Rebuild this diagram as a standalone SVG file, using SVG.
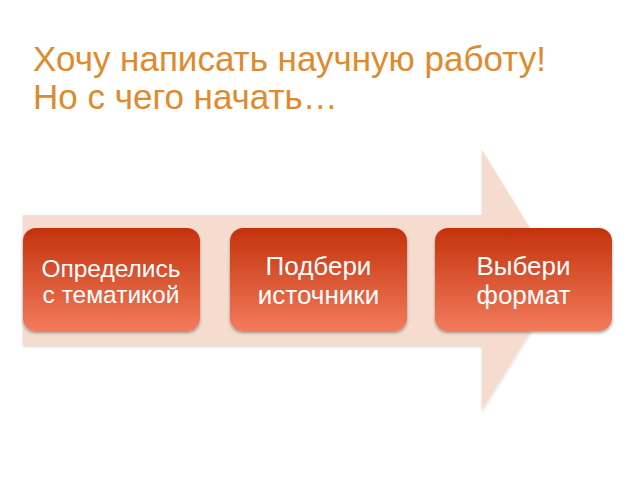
<svg xmlns="http://www.w3.org/2000/svg" width="640" height="480" viewBox="0 0 640 480">
<defs>
<linearGradient id="g" x1="0" y1="0" x2="0" y2="1">
<stop offset="0" stop-color="#C3320C"/>
<stop offset="1" stop-color="#F27B5C"/>
</linearGradient>
<filter id="sh" x="-10%" y="-10%" width="120%" height="130%">
<feGaussianBlur in="SourceAlpha" stdDeviation="1.5"/>
<feOffset dx="0" dy="2" result="b"/>
<feFlood flood-color="#000" flood-opacity="0.35"/>
<feComposite in2="b" operator="in"/>
<feMerge><feMergeNode/><feMergeNode in="SourceGraphic"/></feMerge>
</filter>
<filter id="ash" x="-5%" y="-5%" width="110%" height="115%">
<feGaussianBlur in="SourceAlpha" stdDeviation="1.5"/>
<feOffset dx="0" dy="2" result="b"/>
<feFlood flood-color="#000" flood-opacity="0.15"/>
<feComposite in2="b" operator="in"/>
<feMerge><feMergeNode/><feMergeNode in="SourceGraphic"/></feMerge>
</filter>
</defs>
<style>
.title{font-family:"Liberation Sans",Arial,sans-serif;font-size:35px;fill:#E08A2E}
.box{fill:url(#g);filter:url(#sh)}
.lbl{font-family:"Liberation Sans",Arial,sans-serif;fill:#FFFFFF;text-anchor:middle}
</style>
<rect width="640" height="480" fill="#FFFFFF"/>
<g id="title">
<text class="title" x="33" y="71">Хочу написать научную работу!</text>
<text class="title" x="33" y="109">Но с чего начать…</text>
</g>
<g id="connectors">
<path d="M23 215 H482 V150 L562 280 L482 410 V345 H23 Z" fill="#F6DCCF" filter="url(#ash)"/>
</g>
<g id="node1">
<rect class="box" x="23" y="228" width="177" height="103" rx="13"/>
<text class="lbl" font-size="24.5" x="111" y="277">Определись</text>
<text class="lbl" font-size="24.5" x="111" y="303">с тематикой</text>
</g>
<g id="node2">
<rect class="box" x="230" y="228" width="177" height="103" rx="13"/>
<text class="lbl" font-size="26" x="318.5" y="275">Подбери</text>
<text class="lbl" font-size="26" x="318.5" y="304">источники</text>
</g>
<g id="node3">
<rect class="box" x="435" y="228" width="177" height="103" rx="13"/>
<text class="lbl" font-size="26" x="523.5" y="275">Выбери</text>
<text class="lbl" font-size="26" x="523.5" y="304">формат</text>
</g>
</svg>
